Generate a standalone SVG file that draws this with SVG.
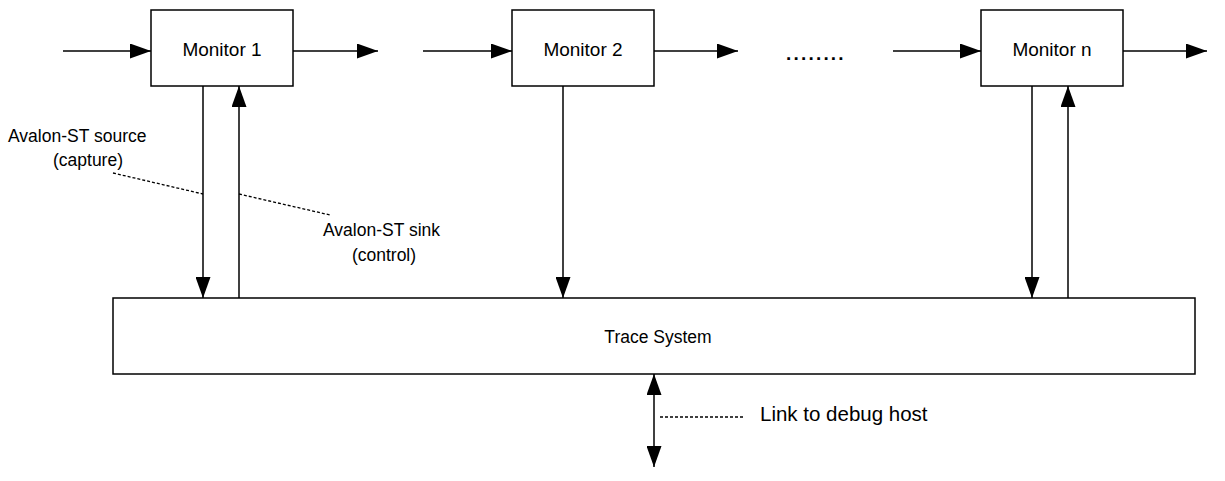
<svg xmlns="http://www.w3.org/2000/svg" width="1225" height="481" viewBox="0 0 1225 481">
  <style>
    .box { fill: #ffffff; stroke: #000000; stroke-width: 1.5; }
    .wire { fill: none; stroke: #000000; stroke-width: 1.5; }
    .lead { fill: none; stroke: #000000; stroke-width: 1.3; stroke-dasharray: 3 2; }
    .lbl { font-family: "Liberation Sans", Arial, sans-serif; font-size: 17.5px; fill: #000000; }
    .mon { font-size: 19px; }
    .big { font-size: 20.5px; }
    .dots { font-size: 19px; font-weight: bold; letter-spacing: 2.2px; }
    .mid { text-anchor: middle; }
  </style>
  <defs>
    <marker id="head" markerUnits="userSpaceOnUse" markerWidth="21" markerHeight="15" refX="21" refY="7.5" orient="auto-start-reverse">
      <path d="M0,0 L21,7.5 L0,15 Z" fill="#000000"/>
    </marker>
  </defs>

  <!-- monitors -->
  <g id="monitor-1">
    <rect class="box" x="151" y="10" width="142" height="76"/>
    <text class="lbl mon mid" x="222" y="56">Monitor 1</text>
  </g>
  <g id="monitor-2">
    <rect class="box" x="512" y="10" width="142" height="76"/>
    <text class="lbl mon mid" x="583" y="56">Monitor 2</text>
  </g>
  <g id="ellipsis">
    <text class="lbl dots" x="786" y="60">........</text>
  </g>
  <g id="monitor-n">
    <rect class="box" x="981" y="10" width="142" height="76"/>
    <text class="lbl mon mid" x="1052" y="56">Monitor n</text>
  </g>

  <!-- trace system -->
  <g id="trace-system">
    <rect class="box" x="113" y="298" width="1082" height="76"/>
    <text class="lbl mid" x="658" y="343">Trace System</text>
  </g>

  <!-- connectors -->
  <g id="connectors">
    <!-- stream through monitors -->
    <line class="wire" x1="63" y1="51" x2="151" y2="51" marker-end="url(#head)"/>
    <line class="wire" x1="293" y1="51" x2="378" y2="51" marker-end="url(#head)"/>
    <line class="wire" x1="423" y1="51" x2="512" y2="51" marker-end="url(#head)"/>
    <line class="wire" x1="654" y1="51" x2="738" y2="51" marker-end="url(#head)"/>
    <line class="wire" x1="893" y1="51" x2="981" y2="51" marker-end="url(#head)"/>
    <line class="wire" x1="1123" y1="51" x2="1207" y2="51" marker-end="url(#head)"/>

    <!-- capture / control -->
    <line class="wire" x1="203" y1="86" x2="203" y2="298" marker-end="url(#head)"/>
    <line class="wire" x1="239" y1="298" x2="239" y2="86" marker-end="url(#head)"/>
    <line class="wire" x1="563" y1="86" x2="563" y2="298" marker-end="url(#head)"/>
    <line class="wire" x1="1032" y1="86" x2="1032" y2="298" marker-end="url(#head)"/>
    <line class="wire" x1="1068" y1="298" x2="1068" y2="86" marker-end="url(#head)"/>

    <!-- debug host link -->
    <line class="wire" x1="654" y1="374" x2="654" y2="467" marker-start="url(#head)" marker-end="url(#head)"/>

    <!-- label leaders -->
    <line class="lead" x1="113" y1="173" x2="203" y2="194"/>
    <line class="lead" x1="239" y1="194" x2="330" y2="215"/>
    <line class="lead" x1="660" y1="417" x2="745" y2="417"/>
  </g>

  <!-- labels -->
  <g id="labels">
    <text class="lbl" x="8" y="142">Avalon-ST source</text>
    <text class="lbl mid" x="88" y="166">(capture)</text>
    <text class="lbl" x="323" y="236">Avalon-ST sink</text>
    <text class="lbl mid" x="384" y="261">(control)</text>
    <text class="lbl big" x="760" y="421">Link to debug host</text>
  </g>
</svg>
